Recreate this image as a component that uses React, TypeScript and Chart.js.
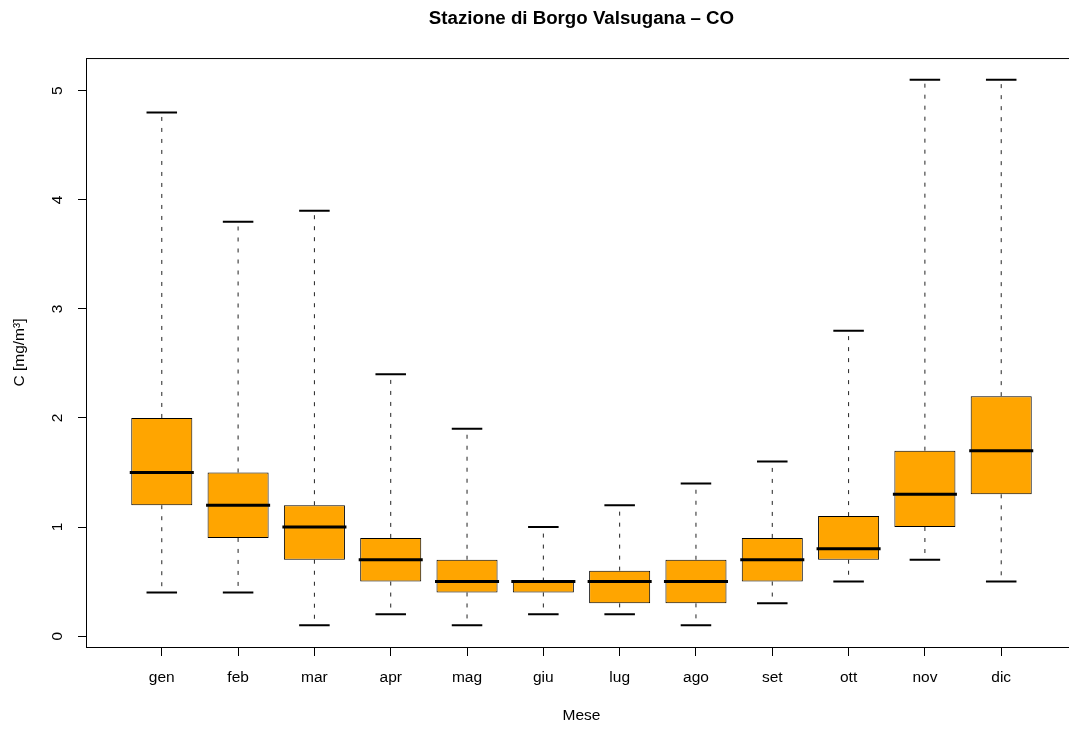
import { useEffect, useRef } from "react";
import { Chart, registerables } from "chart.js";

Chart.register(...registerables);

const months = ["gen", "feb", "mar", "apr", "mag", "giu", "lug", "ago", "set", "ott", "nov", "dic"];
const whiskerLow = [0.4, 0.4, 0.1, 0.2, 0.1, 0.2, 0.2, 0.1, 0.3, 0.5, 0.7, 0.5];
const q1 = [1.2, 0.9, 0.7, 0.5, 0.4, 0.4, 0.3, 0.3, 0.5, 0.7, 1.0, 1.3];
const medians = [1.5, 1.2, 1.0, 0.7, 0.5, 0.5, 0.5, 0.5, 0.7, 0.8, 1.3, 1.7];
const q3 = [2.0, 1.5, 1.2, 0.9, 0.7, 0.5, 0.6, 0.7, 0.9, 1.1, 1.7, 2.2];
const whiskerHigh = [4.8, 3.8, 3.9, 2.4, 1.9, 1.0, 1.2, 1.4, 1.6, 2.8, 5.1, 5.1];
const yTicks = [0, 1, 2, 3, 4, 5];

const FONT = "'Liberation Sans', Arial, Helvetica, sans-serif";

const boxPlugin = {
  id: "boxExtras",
  afterDatasetsDraw(chart: any) {
    const ctx = chart.ctx;
    const ys = chart.scales.y;
    const meta = chart.getDatasetMeta(0);
    ctx.save();
    meta.data.forEach((bar: any, i: number) => {
      const { x, width } = bar.getProps(["x", "width"], true);
      const yLo = ys.getPixelForValue(whiskerLow[i]);
      const yQ1 = ys.getPixelForValue(q1[i]);
      const yMed = ys.getPixelForValue(medians[i]);
      const yQ3 = ys.getPixelForValue(q3[i]);
      const yHi = ys.getPixelForValue(whiskerHigh[i]);
      // whiskers
      ctx.strokeStyle = "#222";
      ctx.lineWidth = 1;
      ctx.setLineDash([4, 7]);
      ctx.beginPath();
      ctx.moveTo(x, yQ3);
      ctx.lineTo(x, yHi);
      ctx.stroke();
      ctx.beginPath();
      ctx.moveTo(x, yQ1);
      ctx.lineTo(x, yLo);
      ctx.stroke();
      ctx.setLineDash([]);
      // staples
      ctx.strokeStyle = "#000";
      ctx.lineWidth = 2;
      const hw = width / 4;
      ctx.beginPath();
      ctx.moveTo(x - hw, yHi);
      ctx.lineTo(x + hw, yHi);
      ctx.moveTo(x - hw, yLo);
      ctx.lineTo(x + hw, yLo);
      ctx.stroke();
      // median
      ctx.lineWidth = 3;
      ctx.beginPath();
      ctx.moveTo(x - width / 2 - 1.5, yMed);
      ctx.lineTo(x + width / 2 + 1.5, yMed);
      ctx.stroke();
    });
    const a = chart.chartArea;
    ctx.strokeStyle = "#000";
    ctx.lineWidth = 1;
    ctx.strokeRect(a.left - 0.5, a.top + 0.5, a.right - a.left, a.bottom - a.top);
    ctx.restore();
  },
};

export default function App() {
  const ref = useRef<HTMLCanvasElement>(null);

  useEffect(() => {
    document.documentElement.style.overflow = "hidden";
    document.body.style.margin = "0";
    const canvas = ref.current;
    if (!canvas) return;
    const chart = new Chart(canvas, {
      type: "bar",
      data: {
        datasets: [
          {
            data: months.map((_, i) => ({ x: i + 1, y: [q1[i], q3[i]] })) as any,
            backgroundColor: "#FFA500",
            borderColor: "#000",
            borderWidth: 1,
            borderSkipped: false,
            categoryPercentage: 1,
            barPercentage: 0.8,
          },
        ],
      },
      options: {
        animation: false,
        responsive: false,
        devicePixelRatio: 1,
        layout: { padding: { left: 0, right: 24, top: 0, bottom: 0 } },
        plugins: {
          legend: { display: false },
          tooltip: { enabled: false },
          title: {
            display: true,
            text: "Stazione di Borgo Valsugana – CO",
            fullSize: false,
            color: "#000",
            font: { family: FONT, size: 18.7, weight: "bold" },
            padding: { top: 8, bottom: 27.6 },
          },
        },
        scales: {
          x: {
            type: "linear",
            min: 0.02,
            max: 12.98,
            offset: false,
            afterBuildTicks: (s: any) => {
              s.ticks = months.map((_, i) => ({ value: i + 1 }));
            },
            afterFit: (s: any) => {
              s.height = 82;
            },
            border: { display: false },
            grid: { offset: false, drawOnChartArea: false, drawTicks: true, tickLength: 9, color: "#000", lineWidth: 1 },
            ticks: {
              autoSkip: false,
              maxRotation: 0,
              minRotation: 0,
              padding: 12.7,
              color: "#000",
              font: { family: FONT, size: 15.5 },
              callback: (v: any) => months[Math.round(Number(v)) - 1] ?? "",
            },
            title: {
              display: true,
              text: "Mese",
              color: "#000",
              font: { family: FONT, size: 15.5 },
              padding: { top: 0, bottom: 3.7 },
            },
          },
          y: {
            type: "linear",
            min: -0.1,
            max: 5.3,
            afterBuildTicks: (s: any) => {
              s.ticks = yTicks.map((v) => ({ value: v }));
            },
            afterFit: (s: any) => {
              s.width = 87;
            },
            border: { display: false },
            grid: { drawOnChartArea: false, drawTicks: true, tickLength: 9, color: "#000", lineWidth: 1 },
            ticks: {
              minRotation: 90,
              maxRotation: 90,
              crossAlign: "center",
              padding: 15.7,
              color: "#000",
              font: { family: FONT, size: 15.5 },
            },
            title: {
              display: true,
              text: "C [mg/m³]",
              color: "#000",
              font: { family: FONT, size: 15.5 },
              padding: { top: 10.7, bottom: 0 },
            },
          },
        },
      },
      plugins: [boxPlugin],
    });
    return () => chart.destroy();
  }, []);

  return (
    <div style={{ position: "fixed", left: 0, top: 0, width: 1100, height: 729, background: "#fff" }}>
      <canvas ref={ref} width={1100} height={729} style={{ width: 1100, height: 729, display: "block" }} />
    </div>
  );
}
